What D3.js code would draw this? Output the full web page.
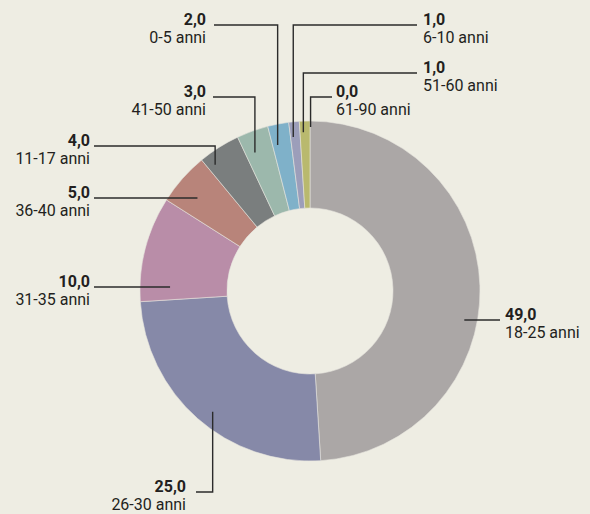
<!DOCTYPE html>
<html>
<head>
<meta charset="utf-8">
<script src="https://cdn.jsdelivr.net/npm/d3@7"></script>
<style>
  html, body { margin: 0; padding: 0; background: #eeede3; }
  svg { display: block; }
  .lbl { font-family: Roboto, "Liberation Sans", sans-serif; font-size: 16px; fill: #231f20; }
  .val { font-weight: bold; }
</style>
</head>
<body>
<script>
// Age groups, in drawing order (clockwise from 12 o'clock)
const categories = ["18-25 anni", "26-30 anni", "31-35 anni", "36-40 anni", "11-17 anni",
                    "41-50 anni", "0-5 anni", "6-10 anni", "51-60 anni", "61-90 anni"];
const values = [49.0, 25.0, 10.0, 5.0, 4.0, 3.0, 2.0, 1.0, 1.0, 0.0];
const colors = ["#aba7a6", "#8689a8", "#b98da8", "#b8847a", "#7a7e7e",
                "#9cb8ac", "#7fb1c9", "#9c9eba", "#b9b96e", "#c2b86a"];

// Label layout: text side, text x, value baseline y, leader start x,
// leader target (angle in degrees from 12 o'clock, radius), leader shape
const labelLayout = [
  { side: "start", tx: 505, ty: 320, lx: 500, ang: 100.7, r: 157, shape: "h" },
  { side: "end",   tx: 186, ty: 492, lx: 196, ang: 218.9, r: 155, shape: "hv" },
  { side: "end",   tx: 90,  ty: 287, lx: 94,  ang: 271.8, r: 140, shape: "h" },
  { side: "end",   tx: 90,  ty: 198, lx: 94,  ang: 309.5, r: 146, shape: "h" },
  { side: "end",   tx: 90,  ty: 146, lx: 94,  ang: 323.1, r: 158, shape: "hv" },
  { side: "end",   tx: 206, ty: 97,  lx: 213, ang: 338.3, r: 149, shape: "hv" },
  { side: "end",   tx: 206, ty: 25,  lx: 214, ang: 347.5, r: 149.5, shape: "hv" },
  { side: "start", tx: 423, ty: 25,  lx: 417, ang: 353.8, r: 155, shape: "hv" },
  { side: "start", tx: 423, ty: 73,  lx: 417, ang: 357.6, r: 159, shape: "hv" },
  { side: "start", tx: 336, ty: 97,  lx: 332, ang: 0.2,   r: 164, shape: "hv" }
];

const W = 590, H = 514;
const cx = 310, cy = 291, rOuter = 170, rInner = 83;

const svg = d3.select("body").append("svg").attr("width", W).attr("height", H);
svg.append("rect").attr("width", W).attr("height", H).attr("fill", "#eeede3");

const data = categories.map((c, i) => ({ name: c, value: values[i], color: colors[i], layout: labelLayout[i] }));

const pie = d3.pie().value(d => d.value).sort(null);
const arc = d3.arc().innerRadius(rInner).outerRadius(rOuter);

const g = svg.append("g").attr("transform", `translate(${cx},${cy})`);
g.selectAll("path.slice")
  .data(pie(data))
  .join("path")
  .attr("class", "slice")
  .attr("d", arc)
  .attr("fill", d => d.data.color)
  .attr("stroke", "#e6e4de")
  .attr("stroke-width", d => d.data.value > 0 ? 0.6 : 0);

// Leader lines and labels
const fmt = v => d3.format(".1f")(v).replace(".", ",");
const labels = svg.append("g");
data.forEach(d => {
  const L = d.layout;
  const a = L.ang * Math.PI / 180;
  let px = cx + L.r * Math.sin(a);
  let py = cy - L.r * Math.cos(a);
  let pts;
  if (L.shape === "h") {
    const dy = L.ty - cy;
    const dx = Math.sqrt(Math.max(0, L.r * L.r - dy * dy));
    px = L.side === "start" ? cx + dx : cx - dx;
    pts = [[L.lx, L.ty], [px, L.ty]];
  } else {
    pts = [[L.lx, L.ty], [px, L.ty], [px, py]];
  }
  labels.append("polyline")
    .attr("points", pts.map(p => p.join(",")).join(" "))
    .attr("fill", "none")
    .attr("stroke", "#2b2b2b")
    .attr("stroke-width", 1.4);
  const t = labels.append("text").attr("class", "lbl").attr("text-anchor", L.side);
  t.append("tspan").attr("class", "val").attr("x", L.tx).attr("y", L.ty).text(fmt(d.value));
  t.append("tspan").attr("x", L.tx).attr("y", L.ty + 18).text(d.name);
});
</script>
</body>
</html>
